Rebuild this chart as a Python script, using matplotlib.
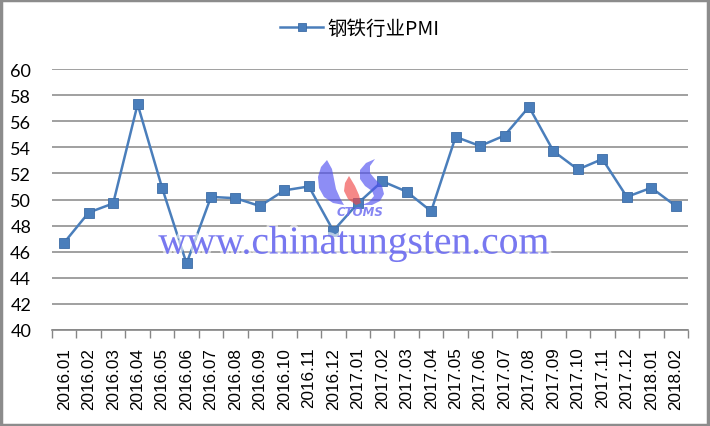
import matplotlib
matplotlib.use("Agg")
import matplotlib.pyplot as plt
from matplotlib.patches import Rectangle, Polygon
import matplotlib.patheffects as pe

months = ["2016.01", "2016.02", "2016.03", "2016.04", "2016.05", "2016.06", "2016.07",
          "2016.08", "2016.09", "2016.10", "2016.11", "2016.12", "2017.01", "2017.02",
          "2017.03", "2017.04", "2017.05", "2017.06", "2017.07", "2017.08", "2017.09",
          "2017.10", "2017.11", "2017.12", "2018.01", "2018.02"]
pmi = [46.7, 49.0, 49.7, 57.3, 50.9, 45.1, 50.2, 50.1, 49.5, 50.7, 51.0, 47.6, 49.7,
       51.4, 50.6, 49.1, 54.8, 54.1, 54.9, 57.1, 53.7, 52.3, 53.1, 50.2, 50.9, 49.5]
series_name = "钢铁行业PMI"
y_ticks = [40, 42, 44, 46, 48, 50, 52, 54, 56, 58, 60]

W, H = 710, 427
fig = plt.figure(figsize=(W / 100, H / 100), dpi=100)
fig.patch.set_facecolor("white")

left, right, top, bottom = 52, 688, 70, 331
ax = fig.add_axes([left / W, (H - bottom) / H, (right - left) / W, (bottom - top) / H])

x = list(range(len(months)))
color = "#4A7EBB"
line, = ax.plot(x, pmi, color=color, lw=1.8, marker="s", markersize=6.5,
                markerfacecolor=color, markeredgecolor="#3c6ca6", markeredgewidth=0.6,
                zorder=3, label=series_name)

ax.set_xlim(-0.5, len(months) - 0.5)
ax.set_ylim(40, 60)
ax.set_yticks(y_ticks)
ax.set_yticklabels([str(v) for v in y_ticks], fontsize=13, family="Lato")
ax.tick_params(axis="y", length=0, pad=15)
ax.set_xticks(x)
ax.set_xticklabels(months, rotation=90, fontsize=12.3, family="Liberation Sans")
ax.set_xticks([i - 0.5 for i in range(len(months) + 1)], minor=True)
ax.tick_params(axis="x", which="major", length=0, pad=12)
ax.tick_params(axis="x", which="minor", length=6, color="#868686", width=1)

for s in ["left", "right", "top"]:
    ax.spines[s].set_visible(False)
ax.spines["bottom"].set_color("#868686")
ax.spines["bottom"].set_linewidth(1.2)
ax.grid(axis="y", color="#868686", lw=1.1)
ax.set_axisbelow(True)


def logo_shape(pts, fc):
    verts = [(xp / W, 1 - yp / H) for xp, yp in pts]
    fig.patches.append(Polygon(verts, closed=True, transform=fig.transFigure, fc=fc,
                               ec="none", alpha=0.65, zorder=4))


# decorative watermark logo
logo_shape([(327, 161), (321, 168), (318, 178), (319, 189), (324, 198), (333, 204),
            (344, 206), (340, 199), (336, 190), (334, 180), (332, 170)], "#5050f0")
logo_shape([(349, 177), (345, 184), (344, 192), (348, 200), (356, 206), (361, 204),
            (359, 196), (355, 187)], "#f04848")
logo_shape([(375, 160), (366, 164), (360, 171), (360, 180), (365, 187), (372, 192),
            (374, 197), (369, 203), (362, 206), (372, 206), (380, 202), (384, 195),
            (382, 187), (375, 180), (370, 174), (370, 167)], "#5050f0")
fig.text(360 / W, 1 - 213 / H, "CTOMS", fontsize=8.5, weight="bold", style="italic",
         family="DejaVu Sans", color="#7070f0", alpha=0.85, ha="center", va="center", zorder=5)

fig.text(354 / W, 1 - 245 / H, "www.chinatungsten.com", fontsize=28.5,
         family="Liberation Serif", color="#6060ee", alpha=0.8, ha="center", va="center",
         path_effects=[pe.withStroke(linewidth=4, foreground="white", alpha=0.6)], zorder=5)

leg = fig.legend(handles=[line], loc="center", bbox_to_anchor=(360 / W, 1 - 29 / H),
                 frameon=False, prop={"family": ["Noto Sans CJK SC", "DejaVu Sans"], "size": 14},
                 handlelength=2.2, handletextpad=0.25, markerscale=0.9)

fig.patches.append(Rectangle((0.002, 0.003), 0.995, 0.994, transform=fig.transFigure,
                             fill=False, edgecolor="#8c8c8c", lw=2.5))

fig.savefig("out.png", dpi=100)
